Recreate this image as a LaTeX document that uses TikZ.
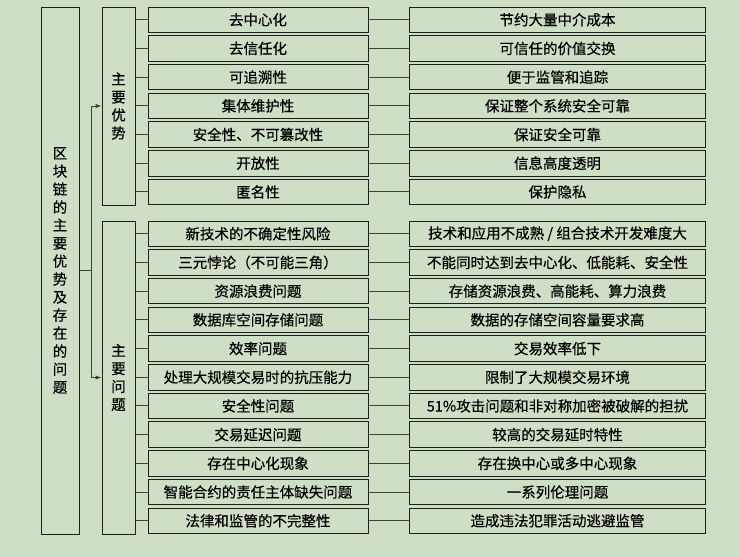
\documentclass[tikz,border=0pt]{standalone}
\usepackage{fontspec}
\setmainfont[FakeBold=0.4]{Noto Sans CJK SC}
\usetikzlibrary{arrows.meta}
\definecolor{bgcol}{RGB}{207,223,197}
\definecolor{linecol}{RGB}{30,30,30}

\begin{document}
\begin{tikzpicture}[x=1pt, y=-1pt,
    box/.style={draw=linecol, line width=1pt, inner sep=0pt, font=\fontsize{14.5}{18}\selectfont},
    itembox/.style={box, minimum width=220pt, minimum height=25.5pt},
    resbox/.style={box, minimum width=296pt, minimum height=25.5pt},
    colbox/.style={box, minimum width=33pt, align=center},
    link/.style={draw=linecol!85, line width=1pt}]

    \fill[bgcol] (0,0) rectangle (740,557);
    \useasboundingbox (0,0) rectangle (740,557);

    \node[box, minimum width=38pt, minimum height=527pt, align=center] (root) at (60,270.5)
        {区\\块\\链\\的\\主\\要\\优\\势\\及\\存\\在\\的\\问\\题};
    \node[colbox, minimum height=198pt] (adv) at (118.5,106) {主\\要\\优\\势};
    \node[colbox, minimum height=313pt] (prob) at (118.5,377.5) {主\\要\\问\\题};

    \coordinate (fork) at (91,270.5);
    \draw[link] (root.east) -- (fork);
    \draw[link,-{Latex[length=6pt,width=4.5pt]}] (fork) |- (adv.west);
    \draw[link,-{Latex[length=6pt,width=4.5pt]}] (fork) |- (prob.west);

    \foreach \i/\a/\b in {1/{去中心化}/{节约大量中介成本},
        2/{去信任化}/{可信任的价值交换},
        3/{可追溯性}/{便于监管和追踪},
        4/{集体维护性}/{保证整个系统安全可靠},
        5/{安全性、不可篡改性}/{保证安全可靠},
        6/{开放性}/{信息高度透明},
        7/{匿名性}/{保护隐私}}
    {
    \node[itembox] (a\i) at (258,{19.75+28.7*(\i-1)}) {\a};
    \node[resbox] (ra\i) at (557.5,{19.75+28.7*(\i-1)}) {\b};
    \draw[link] (adv.east |- a\i) -- (a\i.west);
    \draw[link] (a\i.east) -- (ra\i.west);
    }

    \foreach \i/\a/\b in {1/{新技术的不确定性风险}/{技术和应用不成熟 / 组合技术开发难度大},
        2/{三元悖论（不可能三角）}/{不能同时达到去中心化、低能耗、安全性},
        3/{资源浪费问题}/{存储资源浪费、高能耗、算力浪费},
        4/{数据库空间存储问题}/{数据的存储空间容量要求高},
        5/{效率问题}/{交易效率低下},
        6/{处理大规模交易时的抗压能力}/{限制了大规模交易环境},
        7/{安全性问题}/{51\%攻击问题和非对称加密被破解的担扰},
        8/{交易延迟问题}/{较高的交易延时特性},
        9/{存在中心化现象}/{存在换中心或多中心现象},
        10/{智能合约的责任主体缺失问题}/{一系列伦理问题},
        11/{法律和监管的不完整性}/{造成违法犯罪活动逃避监管}}
    {
    \node[itembox] (p\i) at (258,{233.75+28.7*(\i-1)}) {\a};
    \node[resbox] (rp\i) at (557.5,{233.75+28.7*(\i-1)}) {\b};
    \draw[link] (prob.east |- p\i) -- (p\i.west);
    \draw[link] (p\i.east) -- (rp\i.west);
    }

\end{tikzpicture}
\end{document}
